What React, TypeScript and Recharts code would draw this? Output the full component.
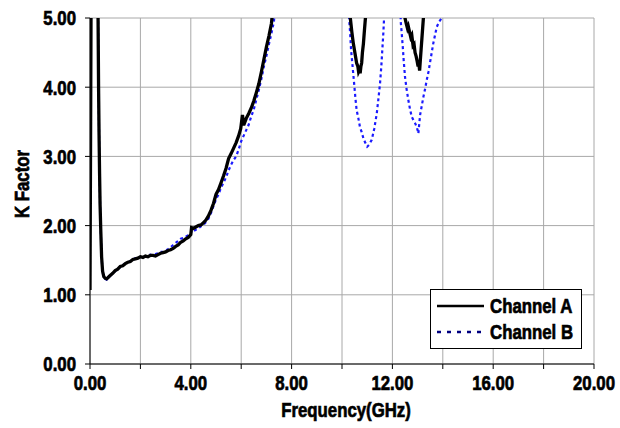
import React from 'react';
import { LineChart, Line, XAxis, YAxis, CartesianGrid, Legend, Label } from 'recharts';

// Frequency (GHz) / K factor points
const chAFreq = [0.0, 0.01, 0.02, 0.03, 0.04, 0.05, null,
  0.31, 0.32, 0.33, 0.34, 0.36, 0.38, 0.40, 0.43, 0.46, 0.50, 0.55, 0.60, 0.66, 0.72, 0.80, 0.90, 1.00, 1.10, 1.20, 1.30, 1.40, 1.50, 1.60, 1.70, 1.80, 1.90, 2.00, 2.10, 2.20, 2.30, 2.40, 2.50, 2.60, 2.70, 2.80, 2.90, 3.00, 3.10, 3.20, 3.30, 3.40, 3.50, 3.60, 3.70, 3.80, 3.90, 4.00, 4.03, 4.10, 4.20, 4.30, 4.40, 4.50, 4.60, 4.70, 4.80, 4.90, 5.00, 5.10, 5.20, 5.30, 5.40, 5.50, 5.60, 5.70, 5.80, 5.90, 5.98, 6.05, 6.10, 6.20, 6.30, 6.40, 6.50, 6.60, 6.70, 6.80, 6.90, 7.00, 7.10, 7.20, 7.25, null,
  10.31, 10.33, 10.39, 10.45, 10.52, 10.58, 10.63, 10.66, 10.70, 10.72, 10.75, 10.78, 10.81, 10.85, 10.89, 10.93, 10.95, null,
  12.48, 12.50, 12.55, 12.60, 12.63, 12.68, 12.73, 12.77, 12.82, 12.86, 12.90, 12.94, 12.98, 13.02, 13.05, 13.08, 13.11, 13.14, 13.17, 13.20, 13.23, 13.25];
const chAK = [1.07, 2.0, 3.0, 4.0, 5.0, 5.6, null,
  5.3, 5.0, 4.5, 4.0, 3.3, 2.75, 2.3, 1.9, 1.55, 1.34, 1.26, 1.24, 1.23, 1.25, 1.28, 1.31, 1.35, 1.37, 1.41, 1.42, 1.45, 1.47, 1.48, 1.51, 1.52, 1.53, 1.55, 1.54, 1.56, 1.55, 1.57, 1.57, 1.56, 1.58, 1.60, 1.61, 1.62, 1.64, 1.65, 1.67, 1.70, 1.72, 1.76, 1.78, 1.81, 1.83, 1.87, 1.97, 1.96, 1.98, 2.00, 2.01, 2.04, 2.08, 2.14, 2.22, 2.32, 2.45, 2.52, 2.62, 2.72, 2.83, 2.97, 3.04, 3.12, 3.20, 3.30, 3.40, 3.60, 3.45, 3.55, 3.62, 3.70, 3.80, 3.92, 4.05, 4.22, 4.40, 4.58, 4.74, 4.92, 5.1, null,
  5.2, 5.0, 4.8, 4.63, 4.48, 4.35, 4.30, 4.22, 4.25, 4.20, 4.30, 4.35, 4.50, 4.63, 4.82, 5.0, 5.2, null,
  5.2, 5.0, 4.92, 4.85, 4.88, 4.80, 4.72, 4.75, 4.60, 4.62, 4.50, 4.45, 4.38, 4.30, 4.35, 4.24, 4.40, 4.55, 4.70, 4.85, 5.0, 5.2];

const chBFreq = [0.0, 0.01, 0.02, null,
  0.31, 0.32, 0.33, 0.34, 0.36, 0.38, 0.40, 0.43, 0.46, 0.50, 0.55, 0.60, 0.66, 0.72, 0.80, 0.90, 1.00, 1.10, 1.20, 1.30, 1.40, 1.50, 1.60, 1.70, 1.80, 1.90, 2.00, 2.10, 2.20, 2.30, 2.40, 2.50, 2.60, 2.70, 2.80, 2.90, 3.00, 3.10, 3.20, 3.30, 3.40, 3.50, 3.60, 3.70, 3.80, 3.90, 4.00, 4.03, 4.10, 4.20, 4.30, 4.40, 4.50, 4.60, 4.70, 4.80, 4.90, 5.00, 5.10, 5.20, 5.30, 5.40, 5.50, 5.60, 5.70, 5.80, 5.90, 6.00, 6.10, 6.20, 6.30, 6.40, 6.50, 6.60, 6.70, 6.80, 6.90, 7.00, 7.10, 7.20, 7.30, 7.33, null,
  10.27, 10.28, 10.32, 10.36, 10.42, 10.48, 10.53, 10.58, 10.65, 10.71, 10.78, 10.85, 10.92, 11.00, 11.08, 11.18, 11.28, 11.38, 11.45, 11.51, 11.56, 11.60, 11.64, 11.67, 11.69, null,
  12.32, 12.33, 12.37, 12.41, 12.45, 12.50, 12.56, 12.63, 12.70, 12.77, 12.84, 12.90, 12.96, 13.00, 13.03, 13.06, 13.10, 13.16, 13.23, 13.30, 13.36, 13.43, 13.49, 13.56, 13.62, 13.69, 13.76, 13.86, 13.96, 14.00];
const chBK = [4.5, 5.0, 5.6, null,
  5.3, 5.0, 4.5, 4.0, 3.3, 2.75, 2.3, 1.9, 1.55, 1.33, 1.25, 1.23, 1.22, 1.24, 1.27, 1.31, 1.34, 1.37, 1.40, 1.43, 1.45, 1.46, 1.49, 1.50, 1.53, 1.52, 1.55, 1.56, 1.55, 1.57, 1.58, 1.57, 1.59, 1.60, 1.62, 1.62, 1.64, 1.66, 1.69, 1.72, 1.75, 1.78, 1.81, 1.82, 1.84, 1.86, 1.88, 1.93, 1.92, 1.94, 1.96, 1.99, 2.01, 2.05, 2.10, 2.18, 2.28, 2.38, 2.45, 2.55, 2.62, 2.70, 2.80, 2.88, 2.95, 3.00, 3.10, 3.22, 3.30, 3.38, 3.46, 3.58, 3.68, 3.82, 3.96, 4.12, 4.30, 4.45, 4.62, 4.78, 4.95, 5.1, null,
  5.2, 5.0, 4.8, 4.54, 4.30, 4.06, 3.85, 3.67, 3.55, 3.43, 3.35, 3.26, 3.20, 3.14, 3.17, 3.24, 3.40, 3.62, 3.85, 4.06, 4.30, 4.54, 4.78, 5.0, 5.2, null,
  5.2, 4.95, 4.78, 4.59, 4.38, 4.15, 3.98, 3.82, 3.68, 3.57, 3.52, 3.48, 3.43, 3.38, 3.33, 3.45, 3.60, 3.72, 3.86, 3.98, 4.10, 4.22, 4.35, 4.50, 4.63, 4.75, 4.87, 4.95, 5.0, 5.2];

const xTicks = [0, 2, 4, 6, 8, 10, 12, 14, 16, 18, 20];
const yTicks = [0, 1, 2, 3, 4, 5];
const seriesNames = ['Channel A', 'Channel B'];
const xTitle = 'Frequency(GHz)';
const yTitle = 'K Factor';

const toRows = (fs: (number | null)[], ks: (number | null)[]) =>
  fs.map((f, i) => ({ f: f === null ? (fs[i - 1] as number) + 0.001 : f, k: ks[i] }));

const dataA = toRows(chAFreq, chAK);
const dataB = toRows(chBFreq, chBK);

const FONT = '"Liberation Sans", Arial, sans-serif';
const SQ = 0.8; // horizontal squeeze to mimic a condensed bold face
const textBase: React.CSSProperties = { fontFamily: FONT, fontWeight: 700, fontSize: 21 };

const CondText = ({ x, y, anchor, dy, rotate, children }: any) => (
  <g transform={`translate(${x},${y})${rotate ? ` rotate(${rotate})` : ''} scale(${SQ},1)`}>
    <text x={0} y={0} dy={dy} textAnchor={anchor} style={textBase} fill="#000" stroke="#000" strokeWidth={0.7}>
      {children}
    </text>
  </g>
);

const XTick = (p: any) => {
  const v = p.payload?.value as number;
  if (v % 4 !== 0) return <g />;
  return <CondText x={p.x} y={p.y} anchor="middle" dy="0.71em">{v.toFixed(2)}</CondText>;
};

const YTick = (p: any) => {
  const v = p.payload?.value as number;
  return <CondText x={p.x} y={p.y} anchor="end" dy="0.355em">{v.toFixed(2)}</CondText>;
};

const legendSpan: React.CSSProperties = { ...textBase, display: 'inline-block', transform: `scaleX(${SQ})`, transformOrigin: 'left center', marginLeft: 5, WebkitTextStroke: '0.7px #000' } as any;

const LegendBox = () => (
  <div style={{ border: '1.5px solid #000', background: '#fff', width: 152, height: 60, boxSizing: 'border-box', color: '#000', padding: '3px 0 0 6px', whiteSpace: 'nowrap', lineHeight: '26px' }}>
    <div style={{ display: 'flex', alignItems: 'center', height: 26 }}>
      <svg width={48} height={6} style={{ flex: 'none' }}><line x1={0} y1={3} x2={47} y2={3} stroke="#000" strokeWidth={2.5} /></svg>
      <span style={legendSpan}>{seriesNames[0]}</span>
    </div>
    <div style={{ display: 'flex', alignItems: 'center', height: 26 }}>
      <svg width={48} height={6} style={{ flex: 'none' }}><line x1={0} y1={3} x2={47} y2={3} stroke="#000080" strokeWidth={2.5} strokeDasharray="4 6" /></svg>
      <span style={legendSpan}>{seriesNames[1]}</span>
    </div>
  </div>
);

export default function App() {
  return (
    <div style={{ position: 'absolute', left: 0, top: 0, width: 620, height: 428, background: '#fff' }}>
      <LineChart width={620} height={428} margin={{ top: 18, right: 26, left: 0, bottom: 0 }}>
        <CartesianGrid xAxisId="b" yAxisId="l" stroke="#a8a8a8" strokeWidth={1} />
        <XAxis
          xAxisId="b"
          type="number"
          dataKey="f"
          domain={[0, 20]}
          ticks={xTicks}
          allowDataOverflow
          interval={0}
          height={64}
          tickSize={5}
          tickMargin={6}
          stroke="#000"
          tick={<XTick />}
        >
          <Label
            content={(p: any) => {
              const vb = p.viewBox || { x: 90, y: 364, width: 504, height: 64 };
              return <CondText x={vb.x + vb.width / 2 + 4} y={vb.y + 53} anchor="middle">{xTitle}</CondText>;
            }}
          />
        </XAxis>
        <XAxis xAxisId="t" orientation="top" type="number" dataKey="f" domain={[0, 20]} ticks={xTicks} height={0} tick={false} tickLine={false} stroke="#444" />
        <YAxis
          yAxisId="l"
          type="number"
          domain={[0, 5]}
          ticks={yTicks}
          allowDataOverflow
          width={90}
          tickSize={5}
          tickMargin={9}
          stroke="#000"
          tick={<YTick />}
        >
          <Label
            content={(p: any) => {
              const vb = p.viewBox || { x: 0, y: 18, width: 90, height: 346 };
              return <CondText x={vb.x + 29} y={vb.y + vb.height / 2 - 7} anchor="middle" rotate={-90}>{yTitle}</CondText>;
            }}
          />
        </YAxis>
        <YAxis yAxisId="r" orientation="right" type="number" domain={[0, 5]} ticks={yTicks} width={0} tick={false} tickLine={false} stroke="#000" />
        <Legend
          layout="horizontal"
          verticalAlign="middle"
          align="center"
          content={() => <LegendBox />}
          wrapperStyle={{ position: 'absolute', left: 430, top: 289, width: 152, height: 60 }}
        />
        <Line
          xAxisId="b"
          yAxisId="l"
          data={dataB}
          dataKey="k"
          name={seriesNames[1]}
          stroke="#1a1aff"
          strokeWidth={2.2}
          strokeDasharray="3 3"
          dot={false}
          connectNulls={false}
          isAnimationActive={false}
        />
        <Line
          xAxisId="b"
          yAxisId="l"
          data={dataA}
          dataKey="k"
          name={seriesNames[0]}
          stroke="#000"
          strokeWidth={3.3}
          dot={false}
          connectNulls={false}
          isAnimationActive={false}
        />
      </LineChart>
    </div>
  );
}
